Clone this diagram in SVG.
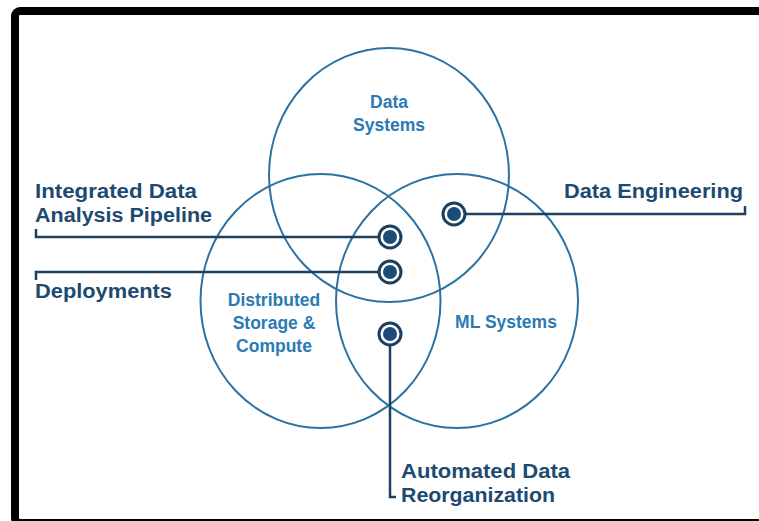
<svg xmlns="http://www.w3.org/2000/svg" width="759" height="521" viewBox="0 0 759 521">
  <style>
    .set { fill: none; stroke: #2b72a3; stroke-width: 2; }
    .set-label { font-family: "Liberation Sans", Arial, sans-serif; font-weight: bold; font-size: 17.5px; fill: #2b7ab3; text-anchor: middle; }
    .callout { font-family: "Liberation Sans", Arial, sans-serif; font-weight: bold; font-size: 19.5px; fill: #1d4a70; }
    .wire { fill: none; stroke: #1f4160; stroke-width: 2.5; }
    .ring { fill: #ffffff; stroke: #1b3f5e; stroke-width: 3; }
    .core { fill: #1b4c78; }
  </style>

  <!-- page frame -->
  <rect x="0" y="0" width="759" height="521" fill="#ffffff"/>
  <rect x="15" y="11" width="760" height="512" rx="5" fill="none" stroke="#000000" stroke-width="8"/>

  <!-- overlapping sets -->
  <g id="data-systems">
    <ellipse class="set" cx="389" cy="175" rx="120" ry="127"/>
    <text class="set-label" x="389" y="108">Data</text>
    <text class="set-label" x="389" y="131">Systems</text>
  </g>
  <g id="distributed-storage">
    <ellipse class="set" cx="320.5" cy="301" rx="120" ry="127"/>
    <text class="set-label" x="274" y="306">Distributed</text>
    <text class="set-label" x="274" y="329">Storage &amp;</text>
    <text class="set-label" x="274" y="352">Compute</text>
  </g>
  <g id="ml-systems">
    <ellipse class="set" cx="457" cy="301" rx="121" ry="127"/>
    <text class="set-label" x="506" y="328">ML Systems</text>
  </g>

  <!-- leader lines -->
  <g id="connectors">
    <path class="wire" d="M36 229 V237 H380"/>
    <path class="wire" d="M36 280 V272 H380"/>
    <path class="wire" d="M465 214 H745 V206"/>
    <path class="wire" d="M390 345 V497 H396"/>
  </g>

  <!-- callouts -->
  <g id="integrated-pipeline">
    <circle class="ring" cx="390" cy="237" r="11"/>
    <circle class="core" cx="390" cy="237" r="7"/>
    <text class="callout" x="35" y="198" textLength="162" lengthAdjust="spacingAndGlyphs">Integrated Data</text>
    <text class="callout" x="35" y="222" textLength="177" lengthAdjust="spacingAndGlyphs">Analysis Pipeline</text>
  </g>
  <g id="deployments">
    <circle class="ring" cx="390" cy="272" r="11"/>
    <circle class="core" cx="390" cy="272" r="7"/>
    <text class="callout" x="35" y="298" textLength="137" lengthAdjust="spacingAndGlyphs">Deployments</text>
  </g>
  <g id="data-engineering">
    <circle class="ring" cx="454" cy="214" r="11"/>
    <circle class="core" cx="454" cy="214" r="7"/>
    <text class="callout" x="564" y="198" textLength="179" lengthAdjust="spacingAndGlyphs">Data Engineering</text>
  </g>
  <g id="automated-reorganization">
    <circle class="ring" cx="390" cy="334" r="11"/>
    <circle class="core" cx="390" cy="334" r="7"/>
    <text class="callout" x="401" y="478" textLength="169" lengthAdjust="spacingAndGlyphs">Automated Data</text>
    <text class="callout" x="401" y="502" textLength="154" lengthAdjust="spacingAndGlyphs">Reorganization</text>
  </g>
</svg>
